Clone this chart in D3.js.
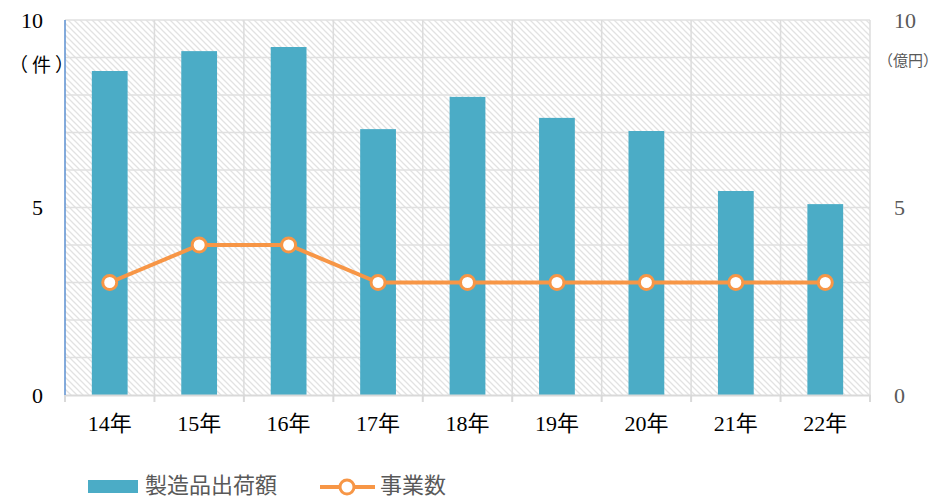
<!DOCTYPE html>
<html>
<head>
<meta charset="utf-8">
<script src="https://cdn.jsdelivr.net/npm/d3@7"></script>
<style>
  body { margin: 0; background: #fff; }
  text { font-family: "Liberation Serif", "Noto Sans CJK JP", serif; }
  text.cjk { font-family: "Noto Sans CJK JP", sans-serif; }
</style>
</head>
<body>
<div id="viz"></div>
<script>
var years = ['14年', '15年', '16年', '17年', '18年', '19年', '20年', '21年', '22年'],
    shipments = [8.64, 9.17, 9.28, 7.09, 7.95, 7.39, 7.04, 5.44, 5.09],
    businesses = [3, 4, 4, 3, 3, 3, 3, 3, 3],
    tickValues = [0, 5, 10],

    chartW = 943,
    chartH = 499,
    plotL = 65,
    plotR = 870,
    plotT = 20,
    plotB = 395,

    svg = d3.select('#viz')
        .append('svg')
            .attr('width', chartW)
            .attr('height', chartH),

    x = d3.scaleBand().domain(years).range([plotL, plotR]),
    yL = d3.scaleLinear().domain([0, 10]).range([plotB, plotT]),
    yR = d3.scaleLinear().domain([0, 10]).range([plotB, plotT]);

// hatch background
var pat = svg.append('defs').append('pattern')
    .attr('id', 'hatch')
    .attr('patternUnits', 'userSpaceOnUse')
    .attr('width', 6)
    .attr('height', 6);
pat.append('path')
    .attr('d', 'M-1,-1 L7,7 M-4,2 L2,8 M4,-2 L8,2')
    .style('stroke', '#e2e2e2')
    .style('stroke-width', 1.3);

svg.append('rect')
    .attr('x', plotL).attr('y', plotT)
    .attr('width', plotR - plotL).attr('height', plotB - plotT)
    .style('fill', 'url(#hatch)');

// grid
var grid = svg.append('g').attr('class', 'grid');
grid.selectAll('line.h')
    .data(d3.range(1, 11))
    .enter().append('line')
        .attr('x1', plotL).attr('x2', plotR)
        .attr('y1', function (d) { return yL(d); })
        .attr('y2', function (d) { return yL(d); })
        .style('stroke', '#e0e0e0')
        .style('stroke-width', 1.5);

grid.selectAll('line.v')
    .data(d3.range(1, years.length + 1))
    .enter().append('line')
        .attr('x1', function (d) { return plotL + x.step() * d; })
        .attr('x2', function (d) { return plotL + x.step() * d; })
        .attr('y1', plotT).attr('y2', plotB)
        .style('stroke', '#dcdcdc')
        .style('stroke-width', 1.5);

// bars
svg.append('g').selectAll('rect')
    .data(shipments)
    .enter().append('rect')
        .attr('x', function (d, i) { return x(years[i]) + x.bandwidth() * 0.3; })
        .attr('width', x.bandwidth() * 0.4)
        .attr('y', function (d) { return yR(d); })
        .attr('height', function (d) { return plotB - yR(d); })
        .style('fill', '#4BACC6');

// bottom axis
var xAxis = svg.append('g')
    .attr('transform', 'translate(0,' + plotB + ')')
    .call(d3.axisBottom(x).tickSize(0).tickPadding(20));
xAxis.select('.domain').style('stroke', '#d9d9d9').style('stroke-width', 2);
xAxis.selectAll('text')
    .style('font-size', '22px')
    .style('fill', '#000');
xAxis.selectAll('line.sep')
    .data(d3.range(0, years.length + 1))
    .enter().append('line')
        .attr('x1', function (d) { return plotL + x.step() * d; })
        .attr('x2', function (d) { return plotL + x.step() * d; })
        .attr('y1', 0).attr('y2', 7)
        .style('stroke', '#d9d9d9')
        .style('stroke-width', 2);

// left axis line
svg.append('line')
    .attr('x1', plotL).attr('x2', plotL)
    .attr('y1', plotT).attr('y2', plotB)
    .style('stroke', '#5b8fd0')
    .style('stroke-width', 1.5);

// y tick labels
var yLeft = svg.append('g')
    .attr('transform', 'translate(' + (plotL - 22) + ',0)')
    .call(d3.axisLeft(yL).tickValues(tickValues).tickSize(0).tickPadding(0));
yLeft.select('.domain').remove();
yLeft.selectAll('text').style('font-size', '22px').style('fill', '#000');

var yRight = svg.append('g')
    .attr('transform', 'translate(' + (plotR + 24) + ',0)')
    .call(d3.axisRight(yR).tickValues(tickValues).tickSize(0).tickPadding(0));
yRight.select('.domain').remove();
yRight.selectAll('text').style('font-size', '22px').style('fill', '#595959');

// unit labels
svg.append('text')
    .attr('class', 'cjk')
    .attr('x', 9).attr('y', 72)
    .style('font-size', '19px')
    .style('letter-spacing', '4px')
    .text('（件）');

svg.append('text')
    .attr('class', 'cjk')
    .attr('x', 908).attr('y', 66)
    .attr('text-anchor', 'middle')
    .style('font-size', '15px')
    .style('fill', '#595959')
    .text('（億円）');

// line series
var line = d3.line()
    .x(function (d, i) { return x(years[i]) + x.bandwidth() / 2; })
    .y(function (d) { return yL(d); });

svg.append('path')
    .datum(businesses)
    .attr('d', line)
    .style('fill', 'none')
    .style('stroke', '#F79646')
    .style('stroke-width', 4);

svg.append('g').selectAll('circle')
    .data(businesses)
    .enter().append('circle')
        .attr('cx', function (d, i) { return x(years[i]) + x.bandwidth() / 2; })
        .attr('cy', function (d) { return yL(d); })
        .attr('r', 7)
        .style('fill', '#fff')
        .style('stroke', '#F79646')
        .style('stroke-width', 3);

// legend
var legend = svg.append('g');
legend.append('rect')
    .attr('x', 88).attr('y', 480)
    .attr('width', 50).attr('height', 13)
    .style('fill', '#4BACC6');
legend.append('text')
    .attr('class', 'cjk')
    .attr('x', 145).attr('y', 493)
    .style('font-size', '22px')
    .style('fill', '#595959')
    .text('製造品出荷額');
legend.append('line')
    .attr('x1', 320).attr('x2', 375)
    .attr('y1', 487).attr('y2', 487)
    .style('stroke', '#F79646')
    .style('stroke-width', 4);
legend.append('circle')
    .attr('cx', 347).attr('cy', 487).attr('r', 7)
    .style('fill', '#fff')
    .style('stroke', '#F79646')
    .style('stroke-width', 3);
legend.append('text')
    .attr('class', 'cjk')
    .attr('x', 380).attr('y', 493)
    .style('font-size', '22px')
    .style('fill', '#595959')
    .text('事業数');
</script>
</body>
</html>
